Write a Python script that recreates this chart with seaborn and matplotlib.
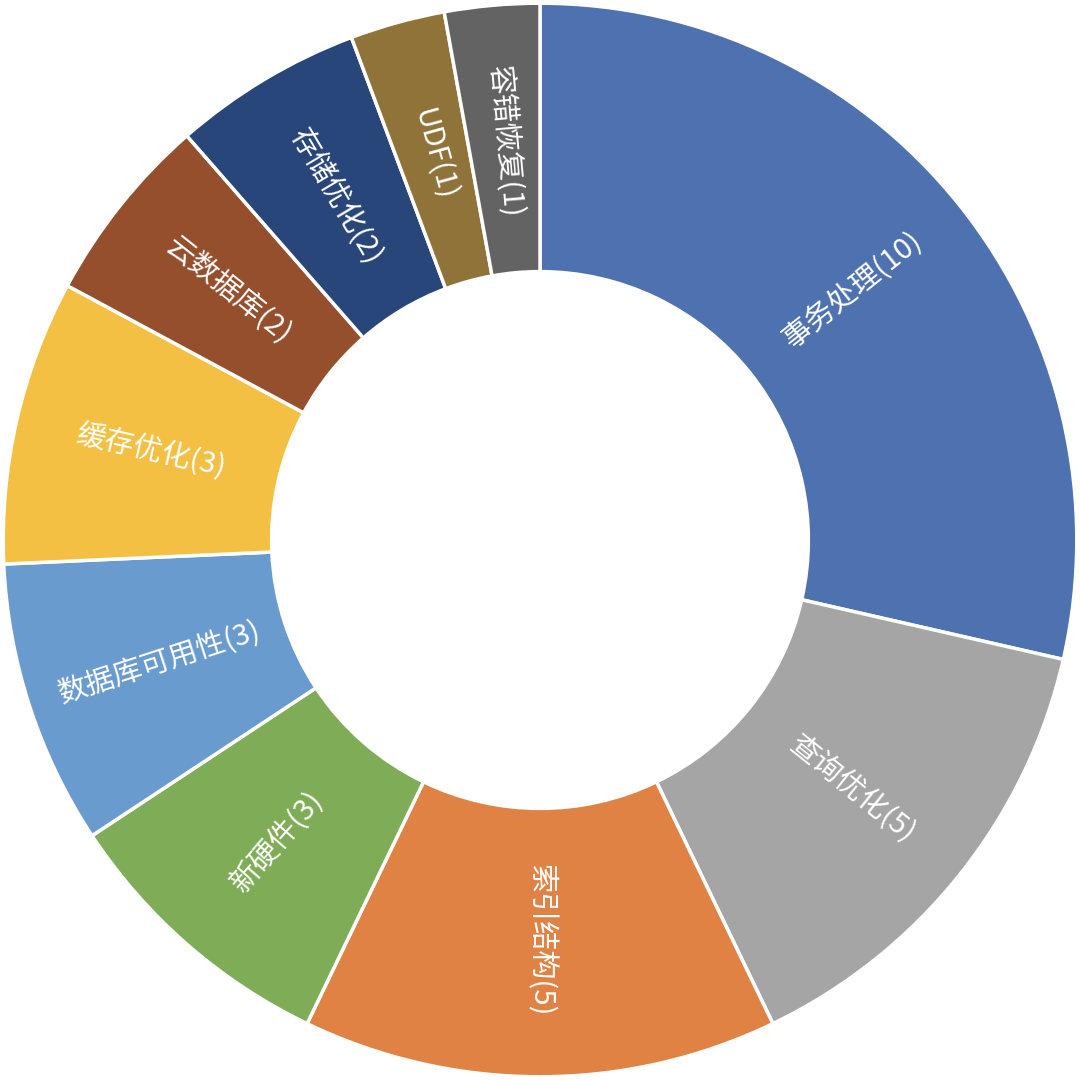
import matplotlib
matplotlib.use("Agg")
import matplotlib.pyplot as plt
import seaborn as sns
import numpy as np

# data (clockwise from 12 o'clock)
categories = ["事务处理", "查询优化", "索引结构", "新硬件", "数据库可用性",
              "缓存优化", "云数据库", "存储优化", "UDF", "容错恢复"]
counts = [10, 5, 5, 3, 3, 3, 2, 2, 1, 1]
colors = ["#4E71AF", "#A5A5A5", "#E08244", "#7FAD57", "#6A9BCF",
          "#F3C043", "#954F2D", "#28467A", "#8F7339", "#636363"]

sns.set_theme(style="white")
plt.rcParams["font.family"] = ["Noto Sans CJK SC", "DejaVu Sans"]

palette = sns.color_palette(colors)

fig = plt.figure(figsize=(10.8, 10.8), dpi=100)
ax = fig.add_axes([0, 0, 1, 1])

wedges, _ = ax.pie(counts, colors=palette, startangle=90, counterclock=False,
                   radius=1.0,
                   wedgeprops=dict(width=0.5, edgecolor="white", linewidth=2.5))

# radial labels in the middle of the ring
for w, name, n in zip(wedges, categories, counts):
    ang = (w.theta1 + w.theta2) / 2.0
    r = 0.745
    x = r * np.cos(np.deg2rad(ang))
    y = r * np.sin(np.deg2rad(ang))
    a = ((ang + 180) % 360) - 180
    if a < -90.5:
        rot = a + 180
    elif a > 90:
        rot = a - 180
    else:
        rot = a
    ax.text(x, y, f"{name}({n})", rotation=rot, rotation_mode="anchor",
            ha="center", va="center", color="white", fontsize=21)

ax.set_xlim(-1.006, 1.006)
ax.set_ylim(-1.006, 1.006)
ax.set_aspect("equal")
ax.axis("off")

fig.savefig("out.png", dpi=100, facecolor="white")
